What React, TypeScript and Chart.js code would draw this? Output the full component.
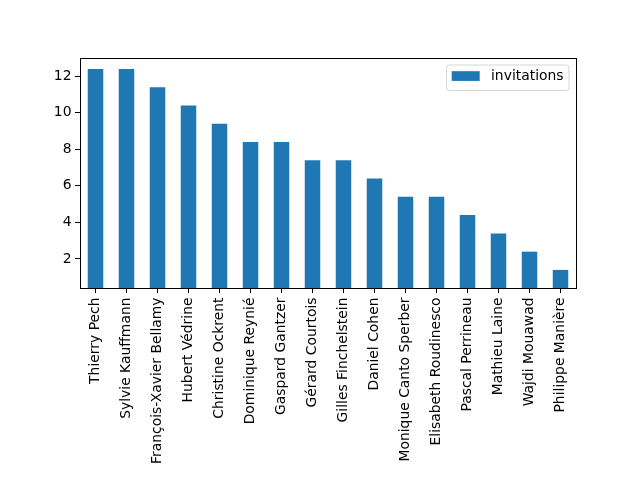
import React, { useEffect, useRef } from "react";
import { Chart, registerables } from "chart.js";

Chart.register(...registerables);

const categories = [
  "Thierry Pech",
  "Sylvie Kauffmann",
  "François-Xavier Bellamy",
  "Hubert Védrine",
  "Christine Ockrent",
  "Dominique Reynié",
  "Gaspard Gantzer",
  "Gérard Courtois",
  "Gilles Finchelstein",
  "Daniel Cohen",
  "Monique Canto Sperber",
  "Elisabeth Roudinesco",
  "Pascal Perrineau",
  "Mathieu Laine",
  "Wajdi Mouawad",
  "Philippe Manière",
];
const invitations = [12.4, 12.4, 11.4, 10.4, 9.4, 8.4, 8.4, 7.4, 7.4, 6.4, 5.4, 5.4, 4.4, 3.4, 2.4, 1.4];
const seriesName = "invitations";
const yTicks = [2, 4, 6, 8, 10, 12];
const yMin = 0.41;
const yMax = 13.0;

const FONT = "'DejaVu Sans', sans-serif";
const FS = 13.9;
const BAR = "#1f77b4";

const framePlugin = {
  id: "frame",
  afterDraw(chart: any) {
    const { ctx, chartArea: a } = chart;
    ctx.save();
    ctx.strokeStyle = "#000";
    ctx.lineWidth = 1;
    ctx.strokeRect(Math.round(a.left) + 0.5, Math.round(a.top) + 0.5, Math.round(a.right - a.left), Math.round(a.bottom - a.top));

    // legend
    const bw = 122.5;
    const bh = 25.5;
    const bx = a.right - 7 - bw;
    const by = a.top + 7;
    const r = 2.8;
    ctx.beginPath();
    ctx.moveTo(bx + r, by);
    ctx.lineTo(bx + bw - r, by);
    ctx.quadraticCurveTo(bx + bw, by, bx + bw, by + r);
    ctx.lineTo(bx + bw, by + bh - r);
    ctx.quadraticCurveTo(bx + bw, by + bh, bx + bw - r, by + bh);
    ctx.lineTo(bx + r, by + bh);
    ctx.quadraticCurveTo(bx, by + bh, bx, by + bh - r);
    ctx.lineTo(bx, by + r);
    ctx.quadraticCurveTo(bx, by, bx + r, by);
    ctx.closePath();
    ctx.fillStyle = "rgba(255,255,255,0.8)";
    ctx.fill();
    ctx.strokeStyle = "rgba(204,204,204,0.8)";
    ctx.stroke();
    ctx.fillStyle = BAR;
    ctx.fillRect(bx + 5.2, by + 6.2, 28, 9.7);
    ctx.fillStyle = "#000";
    ctx.font = `${FS}px ${FONT}`;
    ctx.textBaseline = "middle";
    ctx.textAlign = "left";
    ctx.fillText(seriesName, bx + 44.5, by + 11.5);
    ctx.restore();
  },
};

export default function App() {
  const ref = useRef<HTMLCanvasElement>(null);
  useEffect(() => {
    if (!ref.current) return;
    const chart = new Chart(ref.current, {
      type: "bar",
      data: {
        labels: categories,
        datasets: [
          {
            label: seriesName,
            data: invitations,
            backgroundColor: BAR,
            categoryPercentage: 1,
            barPercentage: 0.5,
          },
        ],
      },
      options: {
        animation: false,
        responsive: false,
        maintainAspectRatio: false,
        layout: { padding: { top: 58, right: 64, left: 0, bottom: 0 } },
        plugins: { legend: { display: false }, tooltip: { enabled: false } },
        scales: {
          x: {
            afterFit(scale: any) {
              scale.height = 192;
            },
            grid: { display: true, offset: false, drawOnChartArea: false, drawTicks: true, tickLength: 5, tickColor: "#000" },
            border: { display: false },
            ticks: {
              color: "#000",
              font: { family: FONT, size: FS },
              minRotation: 90,
              maxRotation: 90,
              autoSkip: false,
              padding: 4.5,
            },
          },
          y: {
            min: yMin,
            max: yMax,
            afterFit(scale: any) {
              scale.width = 80;
            },
            afterBuildTicks(scale: any) {
              scale.ticks = yTicks.map((v) => ({ value: v }));
            },
            grid: { display: true, drawOnChartArea: false, drawTicks: true, tickLength: 5, tickColor: "#000" },
            border: { display: false },
            ticks: {
              color: "#000",
              font: { family: FONT, size: FS },
              padding: 3.5,
            },
          },
        },
      },
      plugins: [framePlugin],
    });
    return () => chart.destroy();
  }, []);
  return (
    <div style={{ position: "fixed", left: 0, top: 0, width: 640, height: 480, background: "#fff" }}>
      <canvas ref={ref} width={640} height={480} style={{ width: 640, height: 480 }} />
    </div>
  );
}
